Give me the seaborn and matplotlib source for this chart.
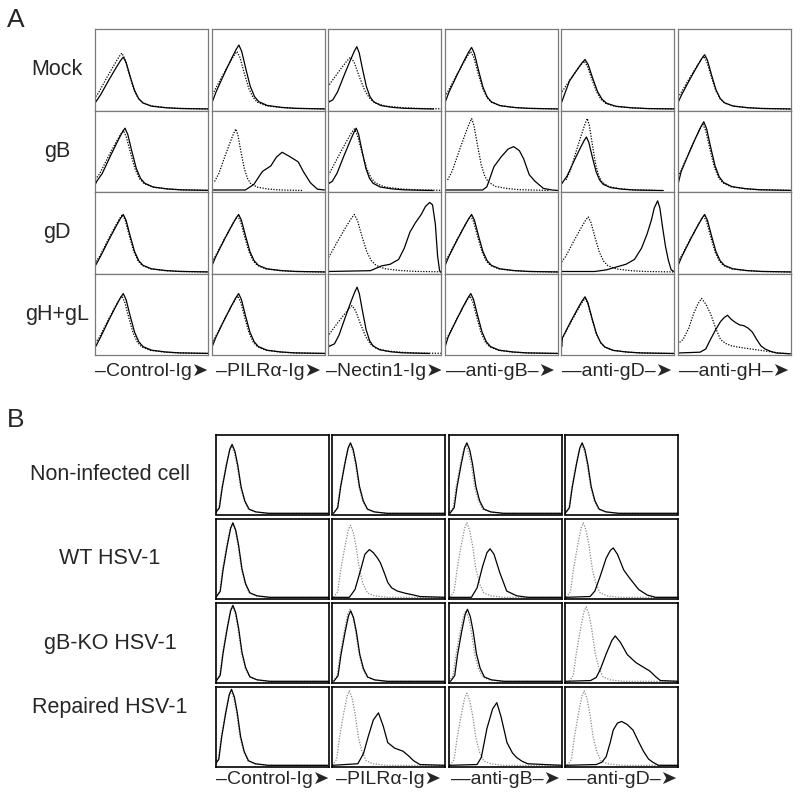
import matplotlib
matplotlib.use("Agg")
import matplotlib.pyplot as plt
import numpy as np
import seaborn as sns

sns.set_style("white")
plt.rcParams["font.family"] = ["Liberation Sans", "DejaVu Sans"]

# ---------------- labels ----------------
a_rows = ["Mock", "gB", "gD", "gH+gL"]
a_cols = ["–Control-Ig➤", "–PILRα-Ig➤", "–Nectin1-Ig➤",
          "—anti-gB–➤", "—anti-gD–➤", "—anti-gH–➤"]
b_rows = ["Non-infected cell", "WT HSV-1", "gB-KO HSV-1", "Repaired HSV-1"]
b_cols = ["–Control-Ig➤", "–PILRα-Ig➤", "—anti-gB–➤", "—anti-gD–➤"]

# ---------------- negative-peak profiles ----------------
# offsets (decades) from the peak, and height relative to the peak
a_neg_dx = [-1.0, -0.8, -0.5, -0.25, -0.1, 0.0, 0.1, 0.25,
            0.4, 0.55, 0.7, 1.0, 1.5, 2.0, 2.6, 3.2]
a_neg_y = [0.15, 0.28, 0.57, 0.8, 0.93, 1.0, 0.9, 0.62,
           0.36, 0.2, 0.12, 0.06, 0.03, 0.015, 0.01, 0.005]
# small first-channel spike at the left edge of panel A solid curves
a_spike_x = [0.0, 0.0, 0.025]
a_spike_y = [0.0, 0.17, 0.09]
b_neg_dx = [-0.6, -0.45, -0.35, -0.2, -0.08, 0.0, 0.1, 0.2, 0.32, 0.45, 0.6, 0.85, 1.3, 3.4]
b_neg_y = [0.0, 0.08, 0.37, 0.7, 0.93, 1.0, 0.9, 0.7, 0.38, 0.18, 0.06, 0.02, 0.0, 0.0]

# (peak decade, height, width) for control-like curves; None = own curve below
a_solid = [
    [(1.0, 0.65, 1.0), (0.97, 0.80, 1.0), (1.02, 0.78, 0.85), (0.96, 0.77, 1.0), (0.85, 0.62, 1.1), (0.96, 0.68, 1.0)],
    [(1.06, 0.78, 1.0), None, (1.0, 0.78, 0.85), None, (0.9, 0.67, 0.85), (0.93, 0.86, 1.0)],
    [(1.0, 0.72, 1.0), (0.96, 0.72, 1.0), None, (0.96, 0.72, 1.0), None, (0.96, 0.72, 1.0)],
    [(1.0, 0.75, 1.0), (0.96, 0.75, 1.0), (1.03, 0.83, 0.8), (0.93, 0.75, 1.0), (0.85, 0.71, 1.0), None],
]
a_dotted = [
    [(0.95, 0.70, 1.05), (0.9, 0.72, 1.05), (0.8, 0.65, 1.25), (0.93, 0.72, 1.05), (0.82, 0.6, 1.1), (0.93, 0.66, 1.05)],
    [(1.0, 0.75, 1.05), (0.86, 0.77, 0.75), (0.93, 0.77, 1.1), (0.96, 0.9, 0.85), (0.93, 0.9, 0.75), (0.9, 0.83, 1.0)],
    [(0.97, 0.72, 1.0), (0.93, 0.7, 1.0), (0.93, 0.72, 1.1), (0.93, 0.7, 1.0), (0.96, 0.69, 1.0), (0.93, 0.7, 1.0)],
    [(0.95, 0.72, 1.0), (0.93, 0.72, 1.0), (0.85, 0.6, 1.2), (0.9, 0.72, 1.0), (0.85, 0.69, 1.0), None],
]
b_solid = [
    [(0.57, 0.88), (0.64, 0.9), (0.64, 0.9), (0.6, 0.9)],
    [(0.6, 0.95), None, None, None],
    [(0.6, 0.97), (0.65, 0.9), (0.66, 0.92), None],
    [(0.55, 0.97), None, None, None],
]
b_dotted = [
    [(0.55, 0.86), (0.62, 0.88), (0.6, 0.87), (0.58, 0.88)],
    [(0.58, 0.95), (0.64, 0.92), (0.64, 0.95), (0.64, 0.95)],
    [(0.58, 0.96), (0.62, 0.92), (0.6, 0.9), (0.74, 0.95)],
    [(0.53, 0.95), (0.6, 0.95), (0.64, 0.92), (0.67, 0.95)],
]

# ---------------- shifted (positive) curves ----------------
a_gb_pilr_x = [0.0, 1.2, 1.5, 1.8, 2.1, 2.3, 2.5, 2.8, 3.07, 3.25, 3.5, 3.75, 4.0]
a_gb_pilr_y = [0.01, 0.01, 0.08, 0.24, 0.31, 0.42, 0.48, 0.42, 0.36, 0.24, 0.1, 0.02, 0.01]
a_gb_antigb_x = [0.0, 1.35, 1.5, 1.75, 2.0, 2.25, 2.45, 2.65, 2.8, 3.0, 3.2, 3.5, 3.8, 4.0]
a_gb_antigb_y = [0.01, 0.01, 0.05, 0.3, 0.42, 0.52, 0.55, 0.5, 0.4, 0.2, 0.12, 0.03, 0.01, 0.005]
a_gd_nectin_x = [0.0, 1.5, 1.9, 2.2, 2.5, 2.7, 2.9, 3.1, 3.3, 3.45, 3.6, 3.7, 3.8, 3.88, 3.95, 4.0]
a_gd_nectin_y = [0.01, 0.02, 0.08, 0.1, 0.16, 0.3, 0.5, 0.62, 0.72, 0.82, 0.87, 0.84, 0.6, 0.2, 0.02, 0.0]
a_gd_antigd_x = [0.0, 1.2, 1.6, 2.0, 2.3, 2.6, 2.85, 3.05, 3.2, 3.3, 3.42, 3.5, 3.6, 3.7, 3.8, 3.9, 4.0]
a_gd_antigd_y = [0.01, 0.01, 0.03, 0.07, 0.1, 0.16, 0.3, 0.48, 0.65, 0.8, 0.89, 0.8, 0.55, 0.32, 0.15, 0.03, 0.01]
a_gh_antigh_x = [0.0, 0.8, 1.0, 1.17, 1.35, 1.52, 1.65, 1.77, 1.9, 2.05, 2.2, 2.35, 2.5,
                 2.65, 2.8, 2.95, 3.1, 3.3, 3.5, 4.0]
a_gh_antigh_y = [0.01, 0.02, 0.06, 0.18, 0.3, 0.4, 0.45, 0.48, 0.43, 0.39, 0.36, 0.35, 0.32,
                 0.27, 0.18, 0.1, 0.06, 0.03, 0.01, 0.0]
a_gh_antigh_dot_x = [0.0, 0.2, 0.4, 0.57, 0.72, 0.85, 1.0, 1.17, 1.35, 1.52, 1.7, 1.9, 2.2, 2.6, 3.2, 3.6, 4.0]
a_gh_antigh_dot_y = [0.12, 0.18, 0.32, 0.5, 0.62, 0.69, 0.62, 0.5, 0.32, 0.18, 0.13, 0.1, 0.08, 0.06, 0.03, 0.01, 0.0]

b_wt_pilr_x = [0.0, 0.6, 0.8, 1.0, 1.15, 1.31, 1.45, 1.6, 1.7, 1.85, 1.96, 2.1, 2.3, 2.6, 2.87, 3.1, 4.0]
b_wt_pilr_y = [0.0, 0.0, 0.1, 0.35, 0.55, 0.61, 0.57, 0.5, 0.44, 0.3, 0.19, 0.12, 0.08, 0.05, 0.03, 0.01, 0.0]
b_wt_gb_x = [0.0, 0.8, 1.0, 1.2, 1.35, 1.46, 1.6, 1.8, 2.05, 2.4, 2.8, 4.0]
b_wt_gb_y = [0.0, 0.0, 0.12, 0.4, 0.57, 0.62, 0.55, 0.32, 0.08, 0.02, 0.0, 0.0]
b_wt_gd_x = [0.0, 0.88, 1.05, 1.24, 1.45, 1.6, 1.7, 1.85, 2.07, 2.25, 2.4, 2.6, 2.9, 3.2, 4.0]
b_wt_gd_y = [0.0, 0.01, 0.08, 0.27, 0.5, 0.6, 0.63, 0.55, 0.35, 0.26, 0.19, 0.1, 0.03, 0.0, 0.0]
b_ko_gd_x = [0.0, 0.9, 1.1, 1.24, 1.45, 1.65, 1.77, 1.95, 2.2, 2.5, 2.77, 3.0, 3.2, 3.37, 4.0]
b_ko_gd_y = [0.0, 0.01, 0.05, 0.15, 0.35, 0.52, 0.58, 0.5, 0.34, 0.24, 0.18, 0.13, 0.06, 0.01, 0.0]
b_rep_pilr_x = [0.0, 0.9, 1.1, 1.27, 1.45, 1.63, 1.8, 1.96, 2.2, 2.5, 2.7, 2.87, 3.1, 4.0]
b_rep_pilr_y = [0.0, 0.02, 0.15, 0.37, 0.58, 0.67, 0.5, 0.29, 0.22, 0.18, 0.12, 0.06, 0.01, 0.0]
b_rep_gb_x = [0.0, 1.0, 1.15, 1.35, 1.55, 1.7, 1.85, 2.06, 2.25, 2.4, 2.6, 2.8, 4.0]
b_rep_gb_y = [0.0, 0.01, 0.1, 0.47, 0.72, 0.8, 0.62, 0.29, 0.16, 0.1, 0.05, 0.02, 0.0]
b_rep_gd_x = [0.0, 1.1, 1.3, 1.45, 1.6, 1.7, 1.85, 2.0, 2.2, 2.4, 2.6, 2.77, 2.95, 3.1, 3.3, 4.0]
b_rep_gd_y = [0.0, 0.01, 0.04, 0.11, 0.3, 0.45, 0.54, 0.56, 0.52, 0.45, 0.3, 0.18, 0.08, 0.04, 0.0, 0.0]

a_special = {
    (1, 1, "solid"): (a_gb_pilr_x, a_gb_pilr_y),
    (1, 3, "solid"): (a_gb_antigb_x, a_gb_antigb_y),
    (2, 2, "solid"): (a_gd_nectin_x, a_gd_nectin_y),
    (2, 4, "solid"): (a_gd_antigd_x, a_gd_antigd_y),
    (3, 5, "solid"): (a_gh_antigh_x, a_gh_antigh_y),
    (3, 5, "dotted"): (a_gh_antigh_dot_x, a_gh_antigh_dot_y),
}
b_special = {
    (1, 1): (b_wt_pilr_x, b_wt_pilr_y),
    (1, 2): (b_wt_gb_x, b_wt_gb_y),
    (1, 3): (b_wt_gd_x, b_wt_gd_y),
    (2, 3): (b_ko_gd_x, b_ko_gd_y),
    (3, 1): (b_rep_pilr_x, b_rep_pilr_y),
    (3, 2): (b_rep_gb_x, b_rep_gb_y),
    (3, 3): (b_rep_gd_x, b_rep_gd_y),
}

W, H = 800, 797
fig = plt.figure(figsize=(W / 100, H / 100), dpi=100)


def box(left, top, w, h):
    return fig.add_axes([left / W, 1 - (top + h) / H, w / W, h / H])


def place(dx, dy, peak, height, width=1.0):
    return [peak + d * width for d in dx], [height * v for v in dy]


def with_spike(xs, ys):
    # keep the part right of the first channel and put the spike in front
    keep = [(x, y) for x, y in zip(xs, ys) if x > a_spike_x[-1]]
    return (a_spike_x + [k[0] for k in keep], a_spike_y + [k[1] for k in keep])


def style(ax, color, lw):
    ax.set_xlim(0, 4)
    ax.set_ylim(-0.015, 1.0)
    major = [0, 1, 2, 3, 4]
    minor = [d + np.log10(k) for d in range(4) for k in range(2, 10)]
    ax.set_xticks(major)
    ax.set_xticks(minor, minor=True)
    ax.set_yticks([])
    ax.tick_params(axis="x", which="both", direction="in", labelbottom=False,
                   color=color, width=0.6)
    ax.tick_params(axis="x", which="major", length=3)
    ax.tick_params(axis="x", which="minor", length=1.8)
    ax.set_xlabel("")
    ax.set_ylabel("")
    for s in ax.spines.values():
        s.set_color(color)
        s.set_linewidth(lw)


def curve(ax, xs, ys, dotted, color):
    ls = (0, (1, 1.2)) if dotted else "-"
    sns.lineplot(x=xs, y=ys, ax=ax, color=color, linewidth=0.9, linestyle=ls,
                 sort=False, estimator=None)


# ---------------- panel A ----------------
a_left, a_top, a_w, a_h, a_step_x, a_step_y = 95, 29, 113, 81.5, 116.5, 81.5
for r in range(4):
    for c in range(6):
        ax = box(a_left + c * a_step_x, a_top + r * a_step_y, a_w, a_h)
        for kind, table in (("dotted", a_dotted), ("solid", a_solid)):
            if (r, c, kind) in a_special:
                xs, ys = a_special[(r, c, kind)]
            else:
                xs, ys = place(a_neg_dx, a_neg_y, *table[r][c])
                if kind == "solid":
                    xs, ys = with_spike(xs, ys)
            curve(ax, xs, ys, kind == "dotted", "black")
        style(ax, "#7a7a7a", 0.9)
    fig.text(57 / W, 1 - (a_top + r * a_step_y + a_h / 2) / H, a_rows[r],
             ha="center", va="center", fontsize=15.5)
for c in range(6):
    fig.text((a_left + c * a_step_x + a_w / 2) / W, 1 - 372 / H, a_cols[c],
             ha="center", va="center", fontsize=14)

# ---------------- panel B ----------------
b_left, b_top, b_w, b_h, b_step_x, b_step_y = 216, 435, 113, 79.5, 116.4, 84
b_label_y = [475, 558, 643, 708]
for r in range(4):
    for c in range(4):
        ax = box(b_left + c * b_step_x, b_top + r * b_step_y, b_w, b_h)
        xs, ys = place(b_neg_dx, b_neg_y, *b_dotted[r][c])
        curve(ax, xs, ys, True, "#8a8a8a")
        if (r, c) in b_special:
            xs, ys = b_special[(r, c)]
        else:
            xs, ys = place(b_neg_dx, b_neg_y, *b_solid[r][c])
        curve(ax, xs, ys, False, "black")
        style(ax, "black", 1.2)
    fig.text(110 / W, 1 - b_label_y[r] / H, b_rows[r],
             ha="center", va="center", fontsize=15.5)
for c in range(4):
    fig.text((b_left + c * b_step_x + b_w / 2) / W, 1 - 779 / H, b_cols[c],
             ha="center", va="center", fontsize=14)

fig.text(16 / W, 1 - 20 / H, "A", ha="center", va="center", fontsize=19)
fig.text(16 / W, 1 - 420 / H, "B", ha="center", va="center", fontsize=19)

fig.savefig("out.png", dpi=100, facecolor="white")
